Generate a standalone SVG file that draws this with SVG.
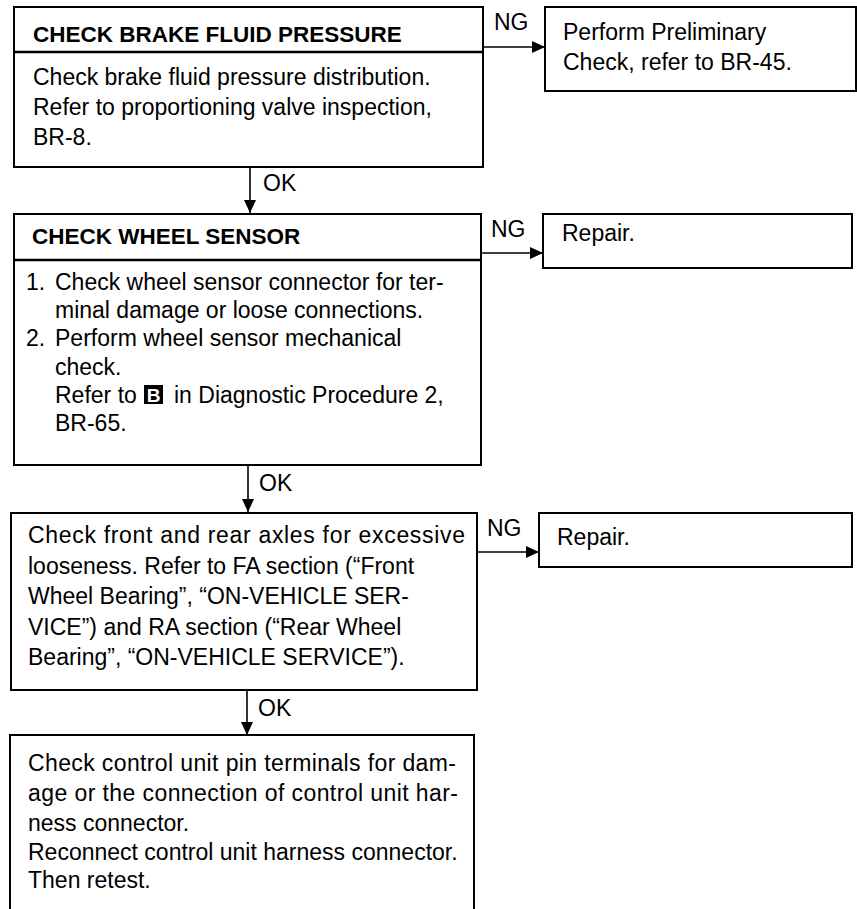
<svg xmlns="http://www.w3.org/2000/svg" width="857" height="909" viewBox="0 0 857 909">
<style>
.box{fill:#fff;stroke:#000;stroke-width:2}
.div{stroke:#000;stroke-width:2.5}
.t{font-family:"Liberation Sans",Arial,sans-serif;font-size:23px;fill:#000}
.h{font-family:"Liberation Sans",Arial,sans-serif;font-size:22.5px;font-weight:bold;fill:#000}
.c{fill:none;stroke:#000;stroke-width:1.6}
</style>
<defs>
<marker id="arr" markerUnits="userSpaceOnUse" markerWidth="14" markerHeight="12" refX="13" refY="6" orient="auto">
<path d="M0,0 L13,6 L0,12 Z" fill="#000"/>
</marker>
</defs>
<rect width="857" height="909" fill="#fff"/>

<g id="n1">
<rect class="box" x="14" y="7" width="469" height="160"/>
<line class="div" x1="14" y1="52" x2="483" y2="52"/>
<text class="h" x="33" y="42">CHECK BRAKE FLUID PRESSURE</text>
<text class="t" x="33" y="85">Check brake fluid pressure distribution.</text>
<text class="t" x="33" y="115">Refer to proportioning valve inspection,</text>
<text class="t" x="33" y="145">BR-8.</text>
</g>

<g id="n2">
<rect class="box" x="545" y="7" width="311" height="84"/>
<text class="t" x="563" y="40">Perform Preliminary</text>
<text class="t" x="563" y="70">Check, refer to BR-45.</text>
</g>

<g id="n3">
<rect class="box" x="14" y="214" width="467" height="251"/>
<line class="div" x1="14" y1="260" x2="481" y2="260"/>
<text class="h" x="32" y="244">CHECK WHEEL SENSOR</text>
<text class="t" y="290"><tspan x="26">1.</tspan><tspan x="55">Check wheel sensor connector for ter-</tspan></text>
<text class="t" x="55" y="318">minal damage or loose connections.</text>
<text class="t" y="346"><tspan x="26">2.</tspan><tspan x="55">Perform wheel sensor mechanical</tspan></text>
<text class="t" x="55" y="375">check.</text>
<text class="t" x="55" y="403">Refer to</text>
<rect x="144" y="385" width="19" height="19" fill="#000"/>
<text x="153.5" y="402" text-anchor="middle" style="font-family:'Liberation Sans',Arial,sans-serif;font-size:19px;font-weight:bold;fill:#fff">B</text>
<text class="t" x="174" y="403">in Diagnostic Procedure 2,</text>
<text class="t" x="55" y="431">BR-65.</text>
</g>

<g id="n4">
<rect class="box" x="543" y="214" width="309" height="54"/>
<text class="t" x="562" y="241">Repair.</text>
</g>

<g id="n5">
<rect class="box" x="11" y="513" width="466" height="177"/>
<text class="t" x="28" y="543" textLength="437" lengthAdjust="spacing">Check front and rear axles for excessive</text>
<text class="t" x="28" y="574">looseness. Refer to FA section (“Front</text>
<text class="t" x="28" y="604">Wheel Bearing”, “ON-VEHICLE SER-</text>
<text class="t" x="28" y="635">VICE”) and RA section (“Rear Wheel</text>
<text class="t" x="28" y="665">Bearing”, “ON-VEHICLE SERVICE”).</text>
</g>

<g id="n6">
<rect class="box" x="539" y="513" width="313" height="54"/>
<text class="t" x="557" y="545">Repair.</text>
</g>

<g id="n7">
<path class="box" d="M10,912 V735 H474 V912"/>
<text class="t" x="28" y="771" textLength="428" lengthAdjust="spacing">Check control unit pin terminals for dam-</text>
<text class="t" x="28" y="801" textLength="430" lengthAdjust="spacing">age or the connection of control unit har-</text>
<text class="t" x="28" y="831">ness connector.</text>
<text class="t" x="28" y="860">Reconnect control unit harness connector.</text>
<text class="t" x="28" y="888">Then retest.</text>
</g>

<g id="connectors">
<line class="c" x1="483" y1="47" x2="545" y2="47" marker-end="url(#arr)"/>
<text class="t" x="494" y="30">NG</text>
<line class="c" x1="250" y1="167" x2="250" y2="213" marker-end="url(#arr)"/>
<text class="t" x="263" y="191">OK</text>
<line class="c" x1="481" y1="253" x2="543" y2="253" marker-end="url(#arr)"/>
<text class="t" x="491" y="237">NG</text>
<line class="c" x1="248" y1="465" x2="248" y2="512" marker-end="url(#arr)"/>
<text class="t" x="259" y="491">OK</text>
<line class="c" x1="477" y1="552" x2="539" y2="552" marker-end="url(#arr)"/>
<text class="t" x="487" y="536">NG</text>
<line class="c" x1="247" y1="690" x2="247" y2="735" marker-end="url(#arr)"/>
<text class="t" x="258" y="716">OK</text>
</g>
</svg>
